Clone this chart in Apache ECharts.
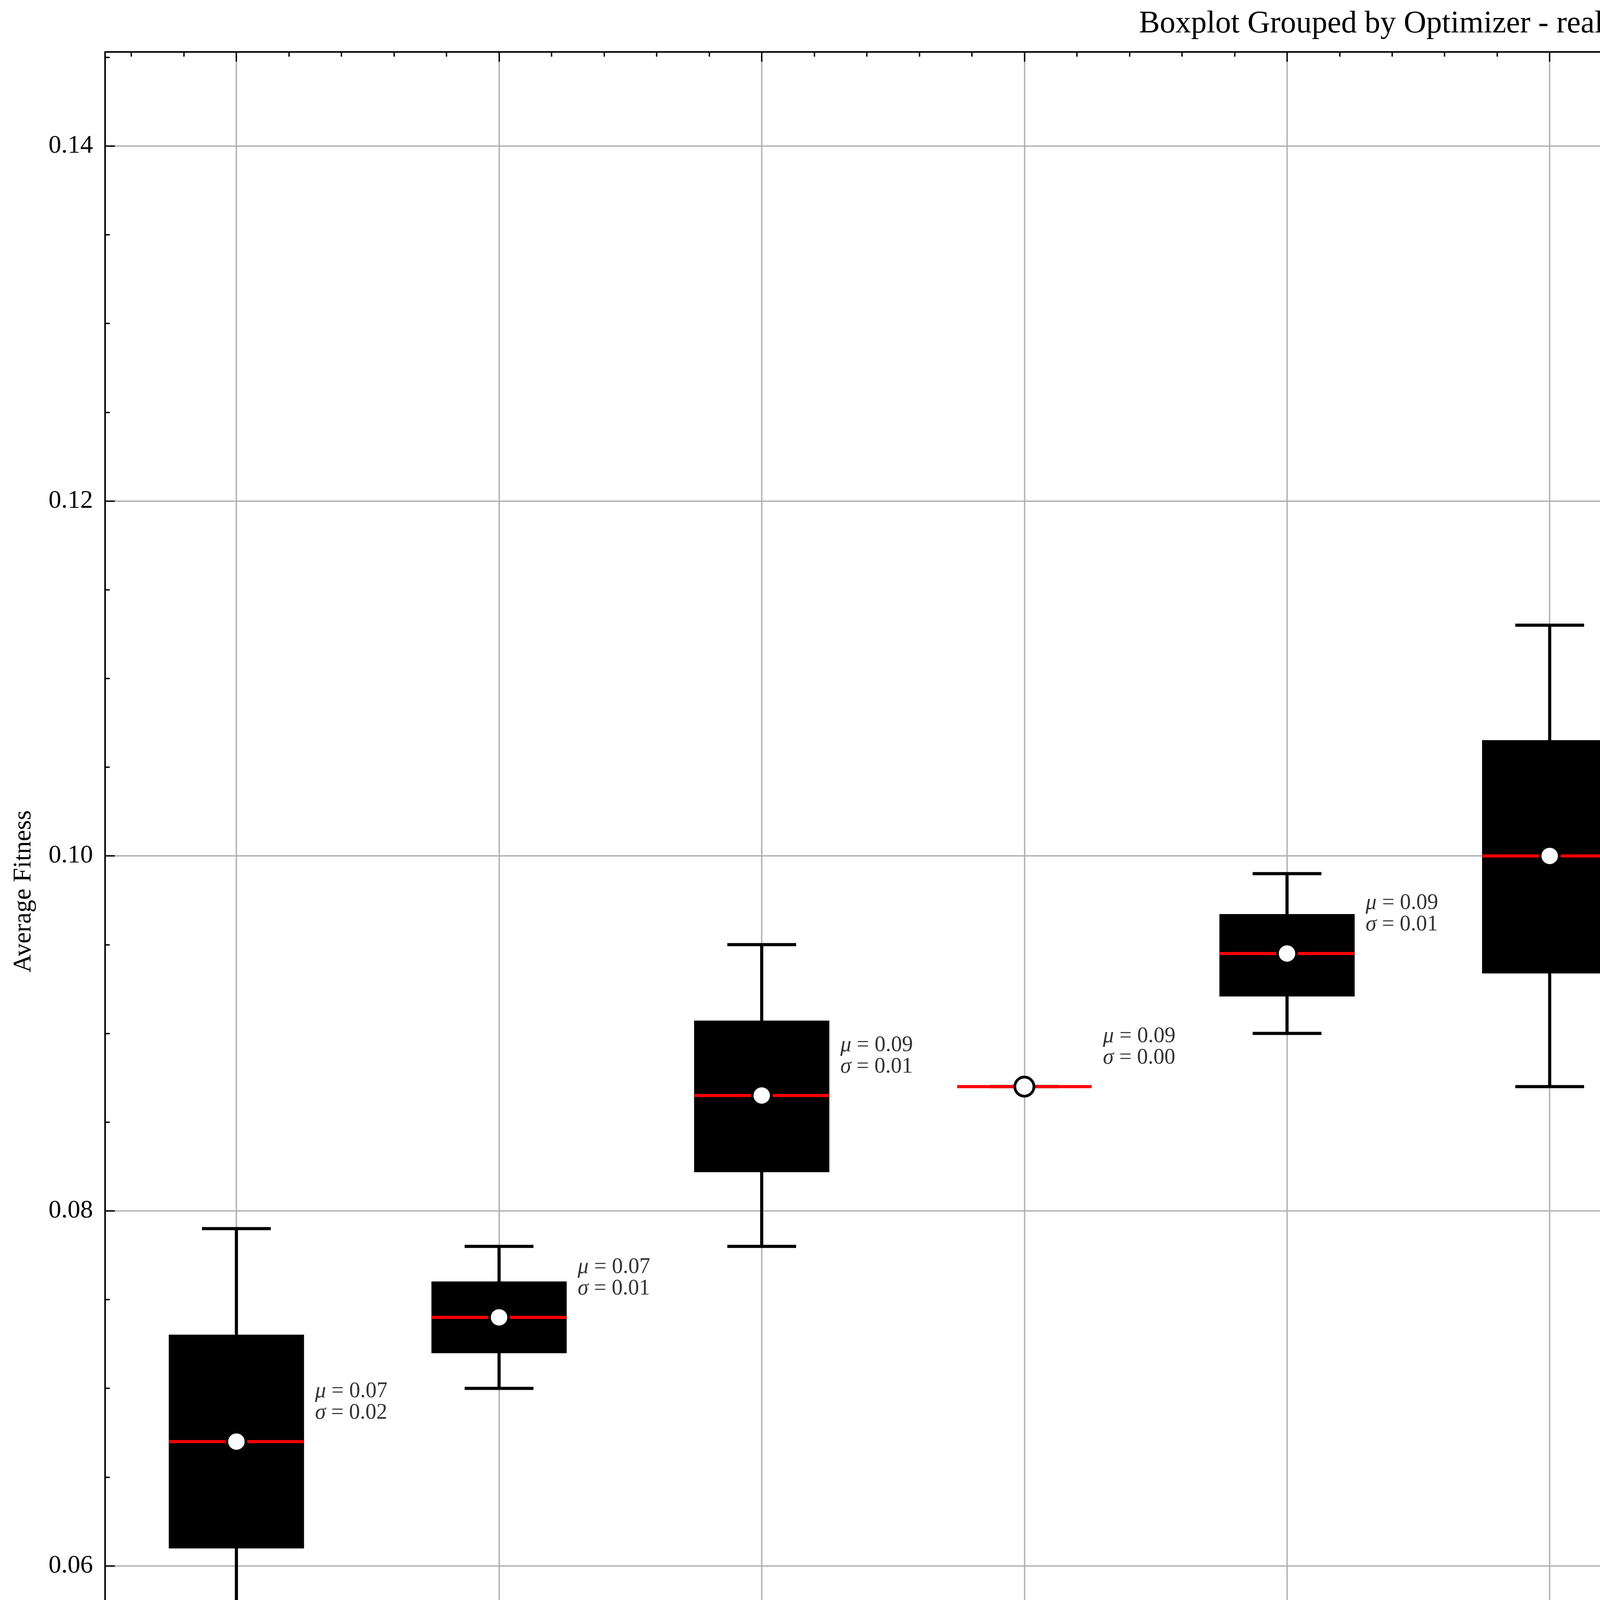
<!DOCTYPE html>
<html>
<head>
<meta charset="utf-8">
<script src="https://cdn.jsdelivr.net/npm/echarts@6/dist/echarts.min.js"></script>
<style>
  html, body { margin: 0; padding: 0; background: #fff; }
  #main { width: 7087px; height: 4715px; }
</style>
</head>
<body>
<div id="main"></div>
<script>
// values
const optimizers = ['de', 'goa', 'fa', 'gwo', 'pso', 'woa', 'cs', 'ba', 'abco', 'da'];
const whiskerLow  = [0.055, 0.070, 0.078,  0.087, 0.090,  0.087,  0.096,  0.091, 0.064,  0.112];
const quartile1   = [0.061, 0.072, 0.0822, 0.087, 0.0921, 0.0934, 0.0982, 0.096, 0.0831, 0.1141];
const medians     = [0.067, 0.074, 0.0865, 0.087, 0.0945, 0.100,  0.1005, 0.101, 0.1025, 0.1165];
const quartile3   = [0.073, 0.076, 0.0907, 0.087, 0.0967, 0.1065, 0.1027, 0.106, 0.1217, 0.1187];
const whiskerHigh = [0.079, 0.078, 0.095,  0.087, 0.099,  0.113,  0.105,  0.111, 0.141,  0.121];
const means       = [0.067, 0.074, 0.0865, 0.087, 0.0945, 0.100,  0.1005, 0.101, 0.1025, 0.1165];
const stds        = [0.02,  0.01,  0.01,   0.00,  0.01,   0.02,   0.01,   0.01,  0.05,   0.01];

const FONT = 'Liberation Serif';
const yMin = 0.0507, yMax = 0.1453;

let boxData = optimizers.map((n, i) => [i, whiskerLow[i], quartile1[i], medians[i], quartile3[i], whiskerHigh[i]]);

function renderBox(params, api) {
    let x = api.value(0);
    let lo = api.coord([x, api.value(1)]);
    let q1 = api.coord([x, api.value(2)]);
    let md = api.coord([x, api.value(3)]);
    let q3 = api.coord([x, api.value(4)]);
    let hi = api.coord([x, api.value(5)]);
    let band = api.size([1, 0])[0];
    let half = band * 0.256, cap = band * 0.131;
    let cx = lo[0];
    let stroke = { stroke: '#000', lineWidth: 8 };
    return {
        type: 'group',
        children: [
            { type: 'line', shape: { x1: cx, y1: hi[1], x2: cx, y2: q3[1] }, style: stroke },
            { type: 'line', shape: { x1: cx, y1: q1[1], x2: cx, y2: lo[1] }, style: stroke },
            { type: 'line', shape: { x1: cx - cap, y1: hi[1], x2: cx + cap, y2: hi[1] }, style: stroke },
            { type: 'line', shape: { x1: cx - cap, y1: lo[1], x2: cx + cap, y2: lo[1] }, style: stroke },
            { type: 'rect', shape: { x: cx - half, y: q3[1], width: half * 2, height: q1[1] - q3[1] },
              style: { fill: '#000', stroke: '#000', lineWidth: 2 } },
            { type: 'line', shape: { x1: cx - half, y1: md[1], x2: cx + half, y2: md[1] },
              style: { stroke: '#ff0000', lineWidth: 8 } }
        ]
    };
}

const tickStyle = { color: '#000', width: 3.5 };
const gridStyle = { color: '#b0b0b0', width: 3.5 };

let valueX = (pos, grid) => ({
    type: 'value',
    position: pos,
    min: -0.5,
    max: 9.5,
    splitNumber: 10,
    axisLine: { show: true, onZero: false, lineStyle: { color: '#000', width: 4 } },
    axisTick: { show: true, inside: true, length: 25, lineStyle: tickStyle },
    minorTick: { show: true, splitNumber: 5, length: 12, lineStyle: tickStyle },
    axisLabel: { show: false },
    splitLine: { show: grid, showMinLine: false, showMaxLine: false, lineStyle: gridStyle }
});

let valueY = (pos, labels) => ({
    type: 'value',
    position: pos,
    min: yMin,
    max: yMax,
    splitNumber: 5,
    axisLine: { show: true, onZero: false, lineStyle: { color: '#000', width: 4 } },
    axisTick: { show: true, inside: true, length: 25, lineStyle: tickStyle },
    minorTick: { show: true, splitNumber: 4, length: 12, lineStyle: tickStyle },
    axisLabel: {
        show: labels, margin: 31, showMinLabel: false, showMaxLabel: false,
        fontFamily: FONT, fontSize: 65, color: '#000',
        formatter: v => v.toFixed(2)
    },
    splitLine: { show: labels, showMinLine: false, showMaxLine: false, lineStyle: gridStyle }
});

let yLeft = valueY('left', true);
yLeft.name = 'Average Fitness';
yLeft.nameLocation = 'middle';
yLeft.nameGap = 176;
yLeft.nameRotate = 90;
yLeft.nameTextStyle = { fontFamily: FONT, fontSize: 65, color: '#000' };

let option = {
    backgroundColor: '#fff',
    animation: false,
    title: {
        text: 'Boxplot Grouped by Optimizer - real - wdbc',
        left: 3630,
        top: 22,
        padding: 0,
        textAlign: 'center',
        textStyle: { fontFamily: FONT, fontSize: 80, fontWeight: 'normal', color: '#000' }
    },
    grid: { left: 269, right: 94, top: 133, bottom: 284, containLabel: false },
    xAxis: [
        {
            type: 'category',
            position: 'bottom',
            data: optimizers,
            boundaryGap: true,
            name: 'Dataset',
            nameLocation: 'middle',
            nameGap: 188,
            nameTextStyle: { fontFamily: FONT, fontSize: 65, color: '#000' },
            axisLine: { show: false, onZero: false },
            axisTick: { show: false },
            splitLine: { show: false },
            axisLabel: {
                interval: 0, rotate: 45, margin: 95,
                align: 'center', verticalAlign: 'middle',
                fontFamily: FONT, fontSize: 65, color: '#000'
            }
        },
        valueX('bottom', true),
        valueX('top', false)
    ],
    yAxis: [yLeft, valueY('right', false)],
    series: [
        {
            name: 'boxes',
            type: 'custom',
            xAxisIndex: 0,
            yAxisIndex: 0,
            renderItem: renderBox,
            encode: { x: 0, y: [1, 2, 3, 4, 5] },
            data: boxData,
            z: 3
        },
        {
            name: 'mean',
            type: 'scatter',
            xAxisIndex: 0,
            yAxisIndex: 0,
            symbol: 'circle',
            symbolSize: 49,
            itemStyle: { color: '#fff', borderColor: '#000', borderWidth: 7, opacity: 1 },
            data: means.map((m, i) => [i, m]),
            z: 5
        },
        {
            name: 'stats',
            type: 'scatter',
            xAxisIndex: 1,
            yAxisIndex: 0,
            symbolSize: 1,
            itemStyle: { color: 'rgba(0,0,0,0)' },
            data: means.map((m, i) => [i + 0.3, m + 0.001, i]),
            label: {
                show: true,
                position: [0, 0],
                align: 'left',
                verticalAlign: 'bottom',
                fontFamily: FONT,
                fontSize: 56,
                lineHeight: 55,
                color: '#000',
                formatter: p => {
                    let i = p.value[2];
                    return '{g|\u03bc} = ' + means[i].toFixed(2) + '\n{g|\u03c3} = ' + stds[i].toFixed(2);
                },
                rich: {
                    g: { fontFamily: FONT, fontSize: 56, lineHeight: 55, fontStyle: 'italic', color: '#000' }
                }
            },
            z: 6
        }
    ]
};

let myChart = echarts.init(document.getElementById('main'));
myChart.setOption(option);
</script>
</body>
</html>
